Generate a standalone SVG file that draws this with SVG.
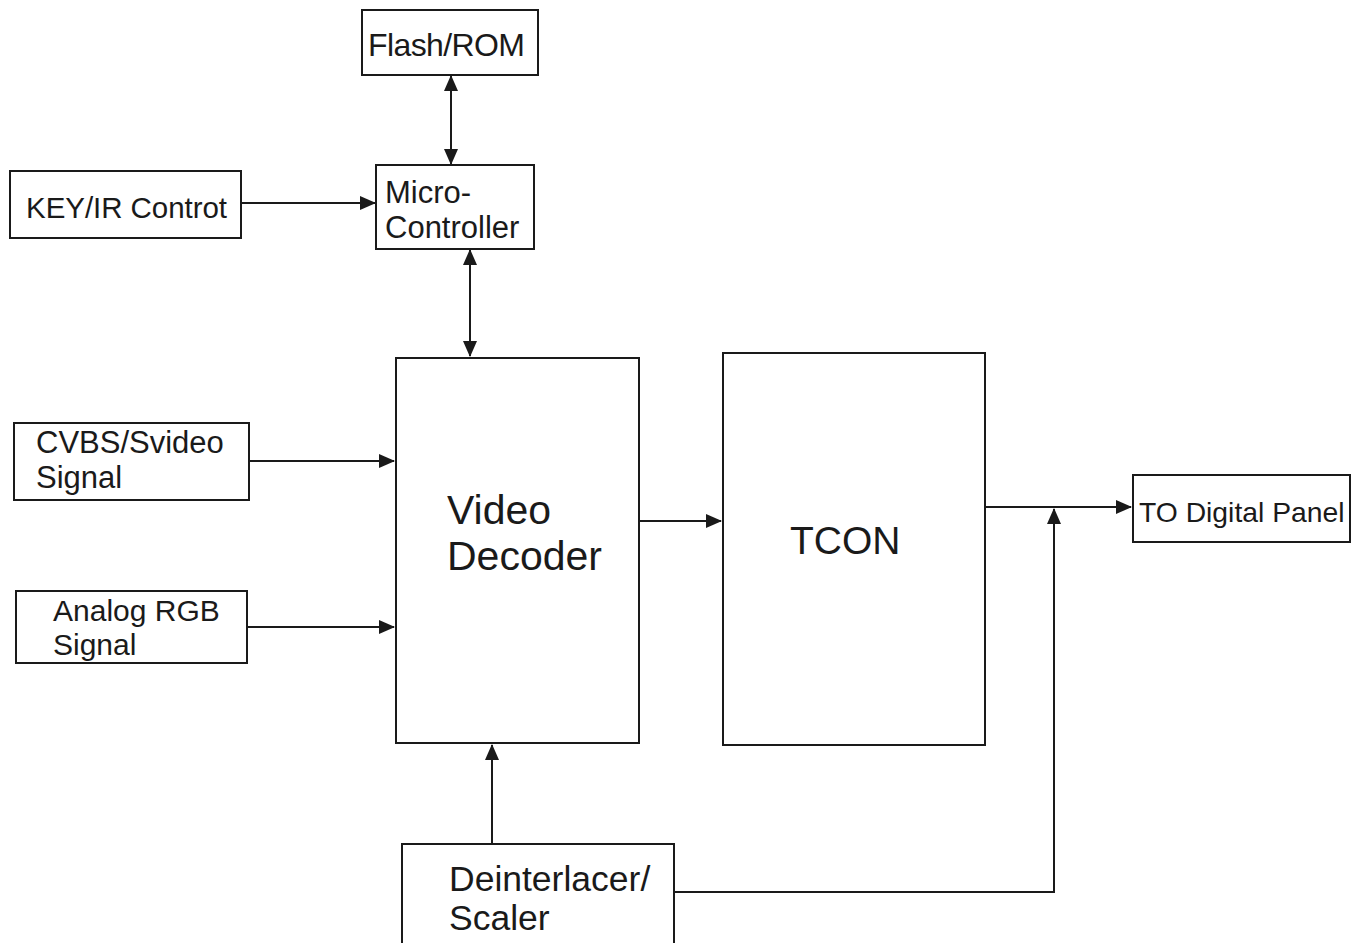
<svg xmlns="http://www.w3.org/2000/svg" width="1365" height="943" viewBox="0 0 1365 943">
<defs>
<style>
.box{fill:#fff;stroke:#1a1a1a;stroke-width:2}
.t{font-family:"Liberation Sans",Arial,sans-serif;fill:#1a1a1a}
.c{fill:none;stroke:#1a1a1a;stroke-width:2}
</style>
<marker id="ah" markerUnits="userSpaceOnUse" markerWidth="16" markerHeight="14" refX="15" refY="7" orient="auto-start-reverse" viewBox="0 0 16 14">
<path d="M0,0 L16,7 L0,14 z" fill="#1a1a1a"/>
</marker>
</defs>
<rect width="1365" height="943" fill="#fff"/>
<g id="connectors">
<line class="c" x1="451" y1="76" x2="451" y2="164" marker-start="url(#ah)" marker-end="url(#ah)"/>
<line class="c" x1="241" y1="203" x2="375" y2="203" marker-end="url(#ah)"/>
<line class="c" x1="470" y1="250" x2="470" y2="356" marker-start="url(#ah)" marker-end="url(#ah)"/>
<line class="c" x1="249" y1="461" x2="394" y2="461" marker-end="url(#ah)"/>
<line class="c" x1="247" y1="627" x2="394" y2="627" marker-end="url(#ah)"/>
<line class="c" x1="639" y1="521" x2="721" y2="521" marker-end="url(#ah)"/>
<line class="c" x1="492" y1="843" x2="492" y2="745" marker-end="url(#ah)"/>
<line class="c" x1="985" y1="507" x2="1131" y2="507" marker-end="url(#ah)"/>
<polyline class="c" points="674,892 1054,892 1054,509" marker-end="url(#ah)"/>
</g>
<g id="flash">
<rect class="box" x="362" y="10" width="176" height="65"/>
<text class="t" x="368" y="56" font-size="32" textLength="157">Flash/ROM</text>
</g>
<g id="micro">
<rect class="box" x="376" y="165" width="158" height="84"/>
<text class="t" x="385" y="203" font-size="31">Micro-</text>
<text class="t" x="385" y="238" font-size="31">Controller</text>
</g>
<g id="key">
<rect class="box" x="10" y="171" width="231" height="67"/>
<text class="t" x="26" y="218" font-size="29.5" textLength="201">KEY/IR Controt</text>
</g>
<g id="cvbs">
<rect class="box" x="14" y="423" width="235" height="77"/>
<text class="t" x="36" y="453" font-size="31">CVBS/Svideo</text>
<text class="t" x="36" y="488" font-size="31">Signal</text>
</g>
<g id="rgb">
<rect class="box" x="16" y="591" width="231" height="72"/>
<text class="t" x="53" y="621" font-size="30">Analog RGB</text>
<text class="t" x="53" y="655" font-size="30">Signal</text>
</g>
<g id="decoder">
<rect class="box" x="396" y="358" width="243" height="385"/>
<text class="t" x="447" y="524" font-size="41">Video</text>
<text class="t" x="447" y="570" font-size="41">Decoder</text>
</g>
<g id="tcon">
<rect class="box" x="723" y="353" width="262" height="392"/>
<text class="t" x="790" y="554" font-size="39">TCON</text>
</g>
<g id="panel">
<rect class="box" x="1133" y="475" width="217" height="67"/>
<text class="t" x="1139" y="522" font-size="28.3">TO Digital Panel</text>
</g>
<g id="scaler">
<rect class="box" x="402" y="844" width="272" height="110"/>
<text class="t" x="449" y="891" font-size="35.5">Deinterlacer/</text>
<text class="t" x="449" y="930" font-size="35.5">Scaler</text>
</g>
</svg>
